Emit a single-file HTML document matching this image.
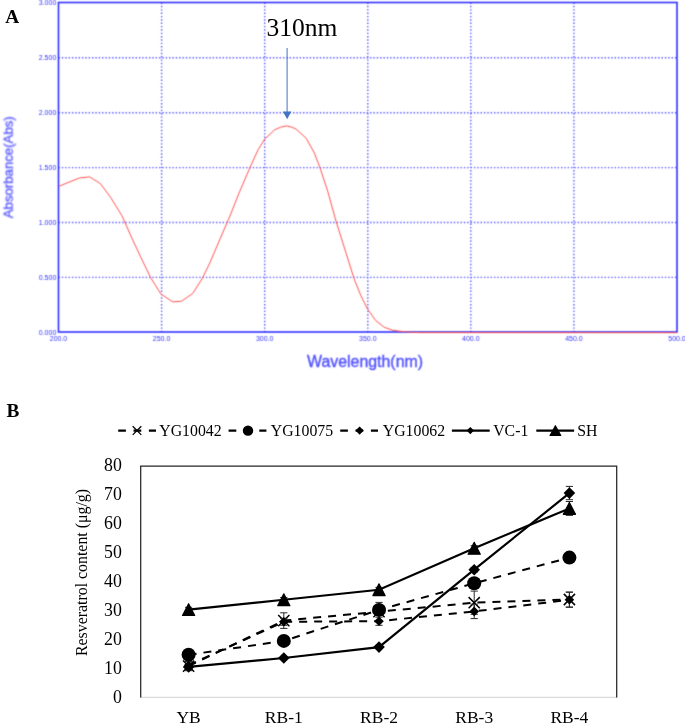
<!DOCTYPE html>
<html lang="en"><head><meta charset="utf-8"><title>Figure</title>
<style>
html,body{margin:0;padding:0;background:#fff;}
body{width:685px;height:724px;overflow:hidden;}
svg{display:block;}
.ser{font-family:"Liberation Serif","Times New Roman",serif;fill:#000;}
.san{font-family:"Liberation Sans",Arial,sans-serif;fill:#4d4dff;}
</style></head><body>
<svg width="685" height="724" viewBox="0 0 685 724">
<defs><filter id="bl" x="-2%" y="-2%" width="104%" height="106%" color-interpolation-filters="sRGB"><feConvolveMatrix order="3" kernelMatrix="0.0622 0.2494 0.0622 0.2494 1.0000 0.2494 0.0622 0.2494 0.0622" divisor="2.2461" edgeMode="none" preserveAlpha="false"/></filter>
<filter id="bl2" x="-5%" y="-20%" width="110%" height="140%" color-interpolation-filters="sRGB"><feConvolveMatrix order="3" kernelMatrix="0.1299 0.3604 0.1299 0.3604 1.0000 0.3604 0.1299 0.3604 0.1299" divisor="2.9615" edgeMode="none" preserveAlpha="false"/></filter></defs>
<rect width="685" height="724" fill="#fff"/>

<g filter="url(#bl)">
<line x1="161.6" y1="2.5" x2="161.6" y2="332.0" stroke="#5656ff" stroke-width="1.4" stroke-dasharray="1.4 1.95"/>
<line x1="264.7" y1="2.5" x2="264.7" y2="332.0" stroke="#5656ff" stroke-width="1.4" stroke-dasharray="1.4 1.95"/>
<line x1="367.8" y1="2.5" x2="367.8" y2="332.0" stroke="#5656ff" stroke-width="1.4" stroke-dasharray="1.4 1.95"/>
<line x1="470.8" y1="2.5" x2="470.8" y2="332.0" stroke="#5656ff" stroke-width="1.4" stroke-dasharray="1.4 1.95"/>
<line x1="573.9" y1="2.5" x2="573.9" y2="332.0" stroke="#5656ff" stroke-width="1.4" stroke-dasharray="1.4 1.95"/>
<line x1="58.5" y1="57.8" x2="677.0" y2="57.8" stroke="#5656ff" stroke-width="1.4" stroke-dasharray="1.4 1.95"/>
<line x1="58.5" y1="112.7" x2="677.0" y2="112.7" stroke="#5656ff" stroke-width="1.4" stroke-dasharray="1.4 1.95"/>
<line x1="58.5" y1="167.6" x2="677.0" y2="167.6" stroke="#5656ff" stroke-width="1.4" stroke-dasharray="1.4 1.95"/>
<line x1="58.5" y1="222.5" x2="677.0" y2="222.5" stroke="#5656ff" stroke-width="1.4" stroke-dasharray="1.4 1.95"/>
<line x1="58.5" y1="277.4" x2="677.0" y2="277.4" stroke="#5656ff" stroke-width="1.4" stroke-dasharray="1.4 1.95"/>
<rect x="58.5" y="2.5" width="618.5" height="329.5" fill="none" stroke="#3030ff" stroke-width="1.6"/>
<polyline points="58.8,186.3 69.9,181.8 79.8,177.9 89.7,176.9 100.4,183.6 110.8,197.7 122,215.8 131.9,238.2 140.6,256.8 150.5,277.4 160.9,294 172.8,301.9 181.5,301.2 192.7,293.5 202.6,277.9 210,262.5 219.9,239.3 229.9,216.1 239.8,191.2 249.8,168 258,149.8 264.7,139.1 274.6,129.9 280.5,127.2 286.5,125.9 292,127.2 296.2,129.2 306.1,138.1 314.4,153.1 320.1,168 327.7,191.2 336,221.1 345.9,252.6 354.2,279.1 360.9,295.7 367.5,309 375.8,320.6 384.1,327.2 392.4,330.2 400,331.2 410,332.2 420,332.6 677,332.7" fill="none" stroke="#ff5050" stroke-width="1.0" stroke-linejoin="round"/>
<text class="san" x="56.3" y="4.8" font-size="7" style="fill:#3636ff" text-anchor="end">3.000</text>
<text class="san" x="56.3" y="60.4" font-size="7" style="fill:#3636ff" text-anchor="end">2.500</text>
<text class="san" x="56.3" y="115.3" font-size="7" style="fill:#3636ff" text-anchor="end">2.000</text>
<text class="san" x="56.3" y="170.2" font-size="7" style="fill:#3636ff" text-anchor="end">1.500</text>
<text class="san" x="56.3" y="225.1" font-size="7" style="fill:#3636ff" text-anchor="end">1.000</text>
<text class="san" x="56.3" y="280.0" font-size="7" style="fill:#3636ff" text-anchor="end">0.500</text>
<text class="san" x="56.3" y="335.0" font-size="7" style="fill:#3636ff" text-anchor="end">0.000</text>
<text class="san" x="58.5" y="340.6" font-size="7" style="fill:#3636ff" text-anchor="middle">200.0</text>
<text class="san" x="161.6" y="340.6" font-size="7" style="fill:#3636ff" text-anchor="middle">250.0</text>
<text class="san" x="264.7" y="340.6" font-size="7" style="fill:#3636ff" text-anchor="middle">300.0</text>
<text class="san" x="367.8" y="340.6" font-size="7" style="fill:#3636ff" text-anchor="middle">350.0</text>
<text class="san" x="470.8" y="340.6" font-size="7" style="fill:#3636ff" text-anchor="middle">400.0</text>
<text class="san" x="573.9" y="340.6" font-size="7" style="fill:#3636ff" text-anchor="middle">450.0</text>
<text class="san" x="677.0" y="340.6" font-size="7" style="fill:#3636ff" text-anchor="middle">500.0</text>
</g>
<g filter="url(#bl2)">
<text class="san" x="307" y="367.4" font-size="16" stroke="#4d4dff" stroke-width="0.35" textLength="116" lengthAdjust="spacingAndGlyphs">Wavelength(nm)</text>
<text class="san" transform="translate(12.7,218.3) rotate(-90)" font-size="13.3" stroke="#4d4dff" stroke-width="0.3" textLength="102" lengthAdjust="spacingAndGlyphs">Absorbance(Abs)</text>
</g>
<text class="ser" x="266.5" y="36.2" font-size="25.5">310nm</text>
<line x1="287.1" y1="48" x2="287.1" y2="112" stroke="#4472c4" stroke-width="1"/>
<polygon points="283,111.6 291.3,111.6 287.15,119.3" fill="#4472c4"/>
<text class="ser" x="5.2" y="22.9" font-size="19.3" font-weight="bold">A</text>
<text class="ser" x="6.4" y="417.1" font-size="19.3" font-weight="bold">B</text>
<line x1="140.2" y1="697.3" x2="617" y2="697.3" stroke="#d9d9d9" stroke-width="1.2"/>
<polyline points="140.7,697.6 140.7,466 616.7,466 616.7,697.6" fill="none" stroke="#262626" stroke-width="1.25"/>
<text class="ser" x="121.8" y="702.6" font-size="17.8" text-anchor="end">0</text>
<text class="ser" x="121.8" y="673.7" font-size="17.8" text-anchor="end">10</text>
<text class="ser" x="121.8" y="644.8" font-size="17.8" text-anchor="end">20</text>
<text class="ser" x="121.8" y="615.8" font-size="17.8" text-anchor="end">30</text>
<text class="ser" x="121.8" y="586.9" font-size="17.8" text-anchor="end">40</text>
<text class="ser" x="121.8" y="558.0" font-size="17.8" text-anchor="end">50</text>
<text class="ser" x="121.8" y="529.1" font-size="17.8" text-anchor="end">60</text>
<text class="ser" x="121.8" y="500.1" font-size="17.8" text-anchor="end">70</text>
<text class="ser" x="121.8" y="471.2" font-size="17.8" text-anchor="end">80</text>
<text class="ser" x="188.6" y="722.7" font-size="17.5" text-anchor="middle">YB</text>
<text class="ser" x="283.8" y="722.7" font-size="17.5" text-anchor="middle">RB-1</text>
<text class="ser" x="379.0" y="722.7" font-size="17.5" text-anchor="middle">RB-2</text>
<text class="ser" x="474.2" y="722.7" font-size="17.5" text-anchor="middle">RB-3</text>
<text class="ser" x="569.4" y="722.7" font-size="17.5" text-anchor="middle">RB-4</text>
<text class="ser" transform="translate(86.7,656) rotate(-90)" font-size="16" textLength="167" lengthAdjust="spacingAndGlyphs">Resveratrol content (μg/g)</text>
<polyline points="188.6,666.1 283.8,620.6 379.0,611.7 474.2,602.7 569.4,599.5" fill="none" stroke="#000" stroke-width="2.0" stroke-dasharray="8 7"/>
<path d="M188.6,661.4V670.7M185.0,661.4h7.2M185.0,670.7h7.2" stroke="#2a2a2a" stroke-width="1" fill="none"/>
<path d="M283.8,612.8V628.4M280.2,612.8h7.2M280.2,628.4h7.2" stroke="#2a2a2a" stroke-width="1" fill="none"/>
<path d="M379.0,602.4V620.9M375.4,602.4h7.2M375.4,620.9h7.2" stroke="#2a2a2a" stroke-width="1" fill="none"/>
<path d="M474.2,591.1V614.3M470.6,591.1h7.2M470.6,614.3h7.2" stroke="#2a2a2a" stroke-width="1" fill="none"/>
<path d="M569.4,592.0V607.0M565.8,592.0h7.2M565.8,607.0h7.2" stroke="#2a2a2a" stroke-width="1" fill="none"/>
<path d="M183.0,660.5L194.2,671.7M183.0,671.7L194.2,660.5" stroke="#000" stroke-width="1.5" fill="none"/>
<path d="M278.2,615.0L289.4,626.2M278.2,626.2L289.4,615.0" stroke="#000" stroke-width="1.5" fill="none"/>
<path d="M373.4,606.1L384.6,617.3M373.4,617.3L384.6,606.1" stroke="#000" stroke-width="1.5" fill="none"/>
<path d="M468.6,597.1L479.8,608.3M468.6,608.3L479.8,597.1" stroke="#000" stroke-width="1.5" fill="none"/>
<path d="M563.8,593.9L575.0,605.1M563.8,605.1L575.0,593.9" stroke="#000" stroke-width="1.5" fill="none"/>
<polyline points="188.6,654.8 283.8,640.9 379.0,609.9 474.2,583.3 569.4,557.6" fill="none" stroke="#000" stroke-width="2.0" stroke-dasharray="8 7"/>
<path d="M188.6,652.5V657.1M185.0,652.5h7.2M185.0,657.1h7.2" stroke="#2a2a2a" stroke-width="1" fill="none"/>
<path d="M283.8,638.0V643.8M280.2,638.0h7.2M280.2,643.8h7.2" stroke="#2a2a2a" stroke-width="1" fill="none"/>
<path d="M379.0,605.6V614.3M375.4,605.6h7.2M375.4,614.3h7.2" stroke="#2a2a2a" stroke-width="1" fill="none"/>
<path d="M474.2,579.9V586.8M470.6,579.9h7.2M470.6,586.8h7.2" stroke="#2a2a2a" stroke-width="1" fill="none"/>
<path d="M569.4,554.7V560.5M565.8,554.7h7.2M565.8,560.5h7.2" stroke="#2a2a2a" stroke-width="1" fill="none"/>
<circle cx="188.6" cy="654.8" r="7.00" fill="#000"/>
<circle cx="283.8" cy="640.9" r="7.00" fill="#000"/>
<circle cx="379.0" cy="609.9" r="7.00" fill="#000"/>
<circle cx="474.2" cy="583.3" r="7.00" fill="#000"/>
<circle cx="569.4" cy="557.6" r="7.00" fill="#000"/>
<polyline points="188.6,665.2 283.8,621.8 379.0,621.2 474.2,611.4 569.4,599.8" fill="none" stroke="#000" stroke-width="2.0" stroke-dasharray="8 7"/>
<path d="M188.6,661.7V668.7M185.0,661.7h7.2M185.0,668.7h7.2" stroke="#2a2a2a" stroke-width="1" fill="none"/>
<path d="M283.8,618.3V625.3M280.2,618.3h7.2M280.2,625.3h7.2" stroke="#2a2a2a" stroke-width="1" fill="none"/>
<path d="M379.0,617.2V625.3M375.4,617.2h7.2M375.4,625.3h7.2" stroke="#2a2a2a" stroke-width="1" fill="none"/>
<path d="M474.2,604.2V618.6M470.6,604.2h7.2M470.6,618.6h7.2" stroke="#2a2a2a" stroke-width="1" fill="none"/>
<path d="M569.4,592.3V607.3M565.8,592.3h7.2M565.8,607.3h7.2" stroke="#2a2a2a" stroke-width="1" fill="none"/>
<polygon points="188.6,660.4 193.4,665.2 188.6,670.0 183.8,665.2" fill="#000"/>
<polygon points="283.8,617.0 288.6,621.8 283.8,626.6 279.0,621.8" fill="#000"/>
<polygon points="379.0,616.4 383.8,621.2 379.0,626.0 374.2,621.2" fill="#000"/>
<polygon points="474.2,606.6 479.0,611.4 474.2,616.2 469.4,611.4" fill="#000"/>
<polygon points="569.4,595.0 574.2,599.8 569.4,604.6 564.6,599.8" fill="#000"/>
<polyline points="188.6,666.9 283.8,658.0 379.0,647.1 474.2,569.7 569.4,493.1" fill="none" stroke="#000" stroke-width="2.15"/>
<path d="M188.6,665.5V668.4M185.0,665.5h7.2M185.0,668.4h7.2" stroke="#2a2a2a" stroke-width="1" fill="none"/>
<path d="M283.8,656.5V659.4M280.2,656.5h7.2M280.2,659.4h7.2" stroke="#2a2a2a" stroke-width="1" fill="none"/>
<path d="M379.0,645.7V648.6M375.4,645.7h7.2M375.4,648.6h7.2" stroke="#2a2a2a" stroke-width="1" fill="none"/>
<path d="M474.2,567.4V572.0M470.6,567.4h7.2M470.6,572.0h7.2" stroke="#2a2a2a" stroke-width="1" fill="none"/>
<path d="M569.4,486.4V499.7M565.8,486.4h7.2M565.8,499.7h7.2" stroke="#2a2a2a" stroke-width="1" fill="none"/>
<polygon points="188.6,661.1 194.4,666.9 188.6,672.7 182.8,666.9" fill="#000"/>
<polygon points="283.8,652.2 289.6,658.0 283.8,663.8 278.0,658.0" fill="#000"/>
<polygon points="379.0,641.3 384.8,647.1 379.0,652.9 373.2,647.1" fill="#000"/>
<polygon points="474.2,563.9 480.0,569.7 474.2,575.5 468.4,569.7" fill="#000"/>
<polygon points="569.4,487.3 575.2,493.1 569.4,498.9 563.6,493.1" fill="#000"/>
<polyline points="188.6,609.6 283.8,599.8 379.0,589.7 474.2,548.3 569.4,508.4" fill="none" stroke="#000" stroke-width="2.15"/>
<path d="M188.6,607.3V612.0M185.0,607.3h7.2M185.0,612.0h7.2" stroke="#2a2a2a" stroke-width="1" fill="none"/>
<path d="M283.8,597.5V602.1M280.2,597.5h7.2M280.2,602.1h7.2" stroke="#2a2a2a" stroke-width="1" fill="none"/>
<path d="M379.0,587.4V592.0M375.4,587.4h7.2M375.4,592.0h7.2" stroke="#2a2a2a" stroke-width="1" fill="none"/>
<path d="M474.2,545.7V550.9M470.6,545.7h7.2M470.6,550.9h7.2" stroke="#2a2a2a" stroke-width="1" fill="none"/>
<path d="M569.4,501.5V515.4M565.8,501.5h7.2M565.8,515.4h7.2" stroke="#2a2a2a" stroke-width="1" fill="none"/>
<polygon points="188.6,603.7 194.7,615.5 182.5,615.5" fill="#000" stroke="#000" stroke-width="1.2" stroke-linejoin="round"/>
<polygon points="283.8,593.9 289.9,605.7 277.7,605.7" fill="#000" stroke="#000" stroke-width="1.2" stroke-linejoin="round"/>
<polygon points="379.0,583.8 385.1,595.6 372.9,595.6" fill="#000" stroke="#000" stroke-width="1.2" stroke-linejoin="round"/>
<polygon points="474.2,542.4 480.3,554.2 468.1,554.2" fill="#000" stroke="#000" stroke-width="1.2" stroke-linejoin="round"/>
<polygon points="569.4,502.5 575.5,514.3 563.3,514.3" fill="#000" stroke="#000" stroke-width="1.2" stroke-linejoin="round"/>
<line x1="118.2" y1="430.6" x2="156.0" y2="430.6" stroke="#000" stroke-width="2.2" stroke-dasharray="7.7 7.65"/>
<path d="M132.7,426.3L141.3,434.9M132.7,434.9L141.3,426.3" stroke="#000" stroke-width="1.3" fill="none"/>
<text class="ser" x="159.3" y="435.9" font-size="15.8">YG10042</text>
<line x1="228.6" y1="430.6" x2="266.4" y2="430.6" stroke="#000" stroke-width="2.2" stroke-dasharray="7.7 7.65"/>
<circle cx="248.0" cy="430.6" r="5.21" fill="#000"/>
<text class="ser" x="270.8" y="435.9" font-size="15.8">YG10075</text>
<line x1="340.2" y1="430.6" x2="378.0" y2="430.6" stroke="#000" stroke-width="2.2" stroke-dasharray="7.7 7.65"/>
<polygon points="359.6,426.5 363.7,430.6 359.6,434.7 355.5,430.6" fill="#000"/>
<text class="ser" x="382.8" y="435.9" font-size="15.8">YG10062</text>
<line x1="451.9" y1="430.6" x2="489.7" y2="430.6" stroke="#000" stroke-width="2.2"/>
<polygon points="470.3,426.9 474.0,430.6 470.3,434.3 466.6,430.6" fill="#000"/>
<text class="ser" x="493.2" y="435.9" font-size="15.8">VC-1</text>
<line x1="536.3" y1="430.6" x2="574.0999999999999" y2="430.6" stroke="#000" stroke-width="2.2"/>
<polygon points="555.4,425.7 560.8,435.5 550.0,435.5" fill="#000" stroke="#000" stroke-width="1.1" stroke-linejoin="round"/>
<text class="ser" x="577.3" y="435.9" font-size="15.8">SH</text>
</svg></body></html>
